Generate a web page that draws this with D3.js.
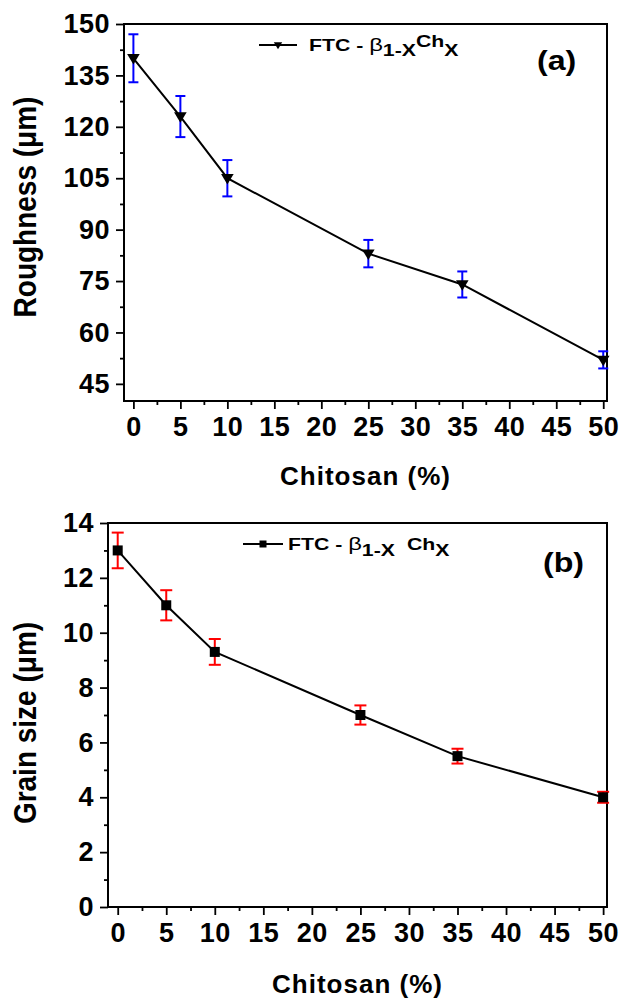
<!DOCTYPE html>
<html>
<head>
<meta charset="utf-8">
<script src="https://cdn.jsdelivr.net/npm/d3@7"></script>
<style>
  body { margin: 0; background: #fff; }
  text { font-family: "Liberation Sans", Arial, sans-serif; font-weight: bold; fill: #000; }
</style>
</head>
<body>
<div id="chart"></div>
<script>
// data
var chitosan = [0, 5, 10, 25, 35, 50];
var roughness = [140, 123, 105, 83, 74, 52];
var roughnessErr = [7, 6, 5.3, 4, 3.8, 2.5];
var grainSize = [13, 11, 9.3, 7, 5.5, 4];
var grainErr = [0.65, 0.55, 0.47, 0.35, 0.27, 0.2];

var xTicks = [0, 5, 10, 15, 20, 25, 30, 35, 40, 45, 50];
var roughTicks = [45, 60, 75, 90, 105, 120, 135, 150];
var grainTicks = [0, 2, 4, 6, 8, 10, 12, 14];

var svg = d3.select("#chart")
  .append("svg")
  .attr("width", 620)
  .attr("height", 1000);

// midpoints between major ticks
function minorOf(ticks) {
  var out = [];
  for (var i = 0; i < ticks.length - 1; i++) out.push((ticks[i] + ticks[i + 1]) / 2);
  return out;
}

var panels = [
  {
    frame: { left: 124, top: 24, right: 607, bottom: 401 },
    yDomain: [40, 150], yTicks: roughTicks,
    values: roughness, errs: roughnessErr,
    marker: "tri", errColor: "#0000ff", capW: 10,
    yTitle: "Roughness (\u03bcm)", yTitleY: 207, xTitleY: 485,
    tag: "(a)", tagX: 537, tagY: 70,
    legend: { x1: 259, x2: 297, y: 45, tx: 309, ty: 51,
      parts: [
        { t: "FTC - ", dy: 0 },
        { t: "\u03b2", dy: 0, normal: true },
        { t: "1-X", dy: 5 },
        { t: "Ch", dy: -9.5 },
        { t: "X", dy: 9.5 }
      ] }
  },
  {
    frame: { left: 108, top: 523, right: 607, bottom: 907 },
    yDomain: [0, 14], yTicks: grainTicks,
    values: grainSize, errs: grainErr,
    marker: "sq", errColor: "#ff0000", capW: 12,
    yTitle: "Grain size (\u03bcm)", yTitleY: 723, xTitleY: 993,
    tag: "(b)", tagX: 543, tagY: 572,
    legend: { x1: 243, x2: 283, y: 544, tx: 288, ty: 550,
      parts: [
        { t: "FTC - ", dy: 0 },
        { t: "\u03b2", dy: 0, normal: true },
        { t: "1-X", dy: 6 },
        { t: "Ch", dy: -6.5, dx: 12 },
        { t: "X", dy: 6.5 }
      ] }
  }
];

panels.forEach(function(p) {
  var f = p.frame;
  var x = d3.scaleLinear().domain([-1, 50.4]).range([f.left, f.right]);
  var y = d3.scaleLinear().domain(p.yDomain).range([f.bottom, f.top]);
  var g = svg.append("g");

  // minor ticks
  g.append("g")
    .attr("transform", `translate(${f.left},0)`)
    .call(d3.axisLeft(y).tickValues(minorOf(p.yTicks)).tickSize(4).tickFormat(""));
  g.append("g")
    .attr("transform", `translate(0,${f.bottom})`)
    .call(d3.axisBottom(x).tickValues(minorOf(xTicks)).tickSize(4).tickFormat(""));

  // major ticks
  var yAx = g.append("g")
    .attr("transform", `translate(${f.left},0)`)
    .call(d3.axisLeft(y).tickValues(p.yTicks).tickSize(8).tickPadding(6));
  var xAx = g.append("g")
    .attr("transform", `translate(0,${f.bottom})`)
    .call(d3.axisBottom(x).tickValues(xTicks).tickSize(8).tickPadding(8));

  g.selectAll(".domain").remove();
  g.selectAll(".tick line").attr("stroke", "#000").attr("stroke-width", 1.8);
  [yAx, xAx].forEach(function(a) {
    a.attr("font-family", null).attr("font-size", null);
    a.selectAll("text")
      .attr("fill", "#000")
      .style("font-size", "27px")
      .style("letter-spacing", "0.5px");
  });

  // frame
  g.append("rect")
    .attr("x", f.left).attr("y", f.top)
    .attr("width", f.right - f.left).attr("height", f.bottom - f.top)
    .attr("fill", "none").attr("stroke", "#000").attr("stroke-width", 2);

  var pts = chitosan.map(function(c, i) {
    return { x: c, y: p.values[i], e: p.errs[i] };
  });

  // connecting line
  g.append("path")
    .datum(pts)
    .attr("fill", "none")
    .attr("stroke", "#000")
    .attr("stroke-width", 2)
    .attr("d", d3.line().x(d => x(d.x)).y(d => y(d.y)));

  // error bars
  var eb = g.selectAll(".err").data(pts).enter().append("g")
    .attr("stroke", p.errColor).attr("stroke-width", 2).attr("fill", "none");
  eb.append("line")
    .attr("x1", d => x(d.x)).attr("x2", d => x(d.x))
    .attr("y1", d => y(d.y + d.e)).attr("y2", d => y(d.y - d.e));
  eb.append("line")
    .attr("x1", d => x(d.x) - p.capW / 2).attr("x2", d => x(d.x) + p.capW / 2)
    .attr("y1", d => y(d.y + d.e)).attr("y2", d => y(d.y + d.e));
  eb.append("line")
    .attr("x1", d => x(d.x) - p.capW / 2).attr("x2", d => x(d.x) + p.capW / 2)
    .attr("y1", d => y(d.y - d.e)).attr("y2", d => y(d.y - d.e));

  // markers
  function drawMarker(sel, big) {
    if (p.marker === "tri") {
      var s = big ? 1.05 : 0.7;
      sel.append("path")
        .attr("d", `M${-6 * s},${-4 * s}L${6 * s},${-4 * s}L0,${6 * s}Z`)
        .attr("fill", "#000");
    } else {
      var w = big ? 10 : 7;
      sel.append("rect")
        .attr("x", -w / 2).attr("y", -w / 2)
        .attr("width", w).attr("height", w)
        .attr("fill", "#000");
    }
  }
  g.selectAll(".mk").data(pts).enter().append("g")
    .attr("transform", d => `translate(${x(d.x)},${y(d.y)})`)
    .each(function() { drawMarker(d3.select(this), true); });

  // axis titles
  g.append("text")
    .attr("transform", `translate(36,${p.yTitleY}) rotate(-90) scale(1,1.12)`)
    .attr("text-anchor", "middle")
    .style("font-size", "28px")
    .text(p.yTitle);

  g.append("text")
    .attr("x", (f.left + f.right) / 2)
    .attr("y", p.xTitleY)
    .attr("text-anchor", "middle")
    .style("font-size", "26px")
    .style("letter-spacing", "1px")
    .text("Chitosan (%)");

  // panel tag
  g.append("text")
    .attr("transform", `translate(${p.tagX},${p.tagY}) scale(1.15,1)`)
    .style("font-size", "28px")
    .text(p.tag);

  // legend
  var L = p.legend;
  g.append("line")
    .attr("x1", L.x1).attr("x2", L.x2).attr("y1", L.y).attr("y2", L.y)
    .attr("stroke", "#000").attr("stroke-width", 2);
  var lm = g.append("g").attr("transform", `translate(${(L.x1 + L.x2) / 2},${L.y})`);
  drawMarker(lm, false);

  var lt = g.append("text")
    .attr("transform", `translate(${L.tx},${L.ty}) scale(1.25,1)`)
    .style("font-size", "17px");
  L.parts.forEach(function(part) {
    var ts = lt.append("tspan").attr("dy", part.dy).text(part.t);
    if (part.dx) ts.attr("dx", part.dx / 1.25);
    if (part.normal) ts.style("font-weight", "normal").style("font-size", "19px");
  });
});
</script>
</body>
</html>
